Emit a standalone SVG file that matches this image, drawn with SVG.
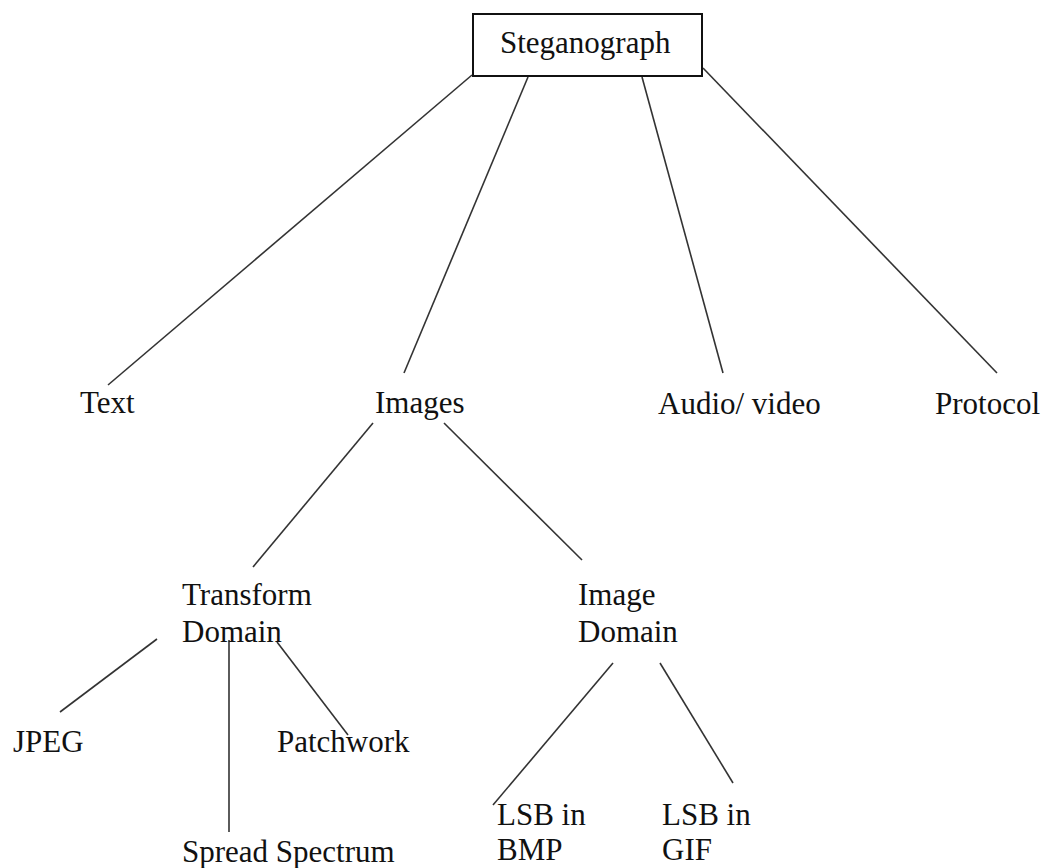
<svg xmlns="http://www.w3.org/2000/svg" width="1045" height="868" viewBox="0 0 1045 868">
<style>
.t{font-family:"Liberation Serif","Times New Roman",serif;font-size:31px;fill:#111}
.c line{stroke:#333;stroke-width:1.6;fill:none}
</style>
<rect width="1045" height="868" fill="#fff"/>
<g class="c" id="connectors">
<line x1="472" y1="75" x2="108" y2="385"/>
<line x1="528" y1="77" x2="404" y2="373"/>
<line x1="642" y1="77" x2="723" y2="373"/>
<line x1="703" y1="68" x2="997" y2="373"/>
<line x1="373" y1="423" x2="253" y2="567"/>
<line x1="444" y1="423" x2="582" y2="560"/>
<line x1="157" y1="639" x2="60" y2="712"/>
<line x1="229" y1="640" x2="229" y2="832"/>
<line x1="277" y1="642" x2="348" y2="735"/>
<line x1="613" y1="663" x2="493" y2="805"/>
<line x1="660" y1="663" x2="733" y2="783"/>
</g>
<g id="steganograph">
<rect x="473" y="14" width="229" height="62" fill="#fff" stroke="#111" stroke-width="2"/>
<text class="t" x="500" y="53">Steganograph</text>
</g>
<g id="text"><text class="t" x="80" y="413">Text</text></g>
<g id="images"><text class="t" x="375" y="413">Images</text></g>
<g id="audio"><text class="t" x="658" y="414">Audio/ video</text></g>
<g id="protocol"><text class="t" x="935" y="414">Protocol</text></g>
<g id="transform"><text class="t" x="182" y="605">Transform</text><text class="t" x="182" y="642">Domain</text></g>
<g id="imagedomain"><text class="t" x="578" y="605">Image</text><text class="t" x="578" y="642">Domain</text></g>
<g id="jpeg"><text class="t" x="13" y="752">JPEG</text></g>
<g id="patchwork"><text class="t" x="277" y="752">Patchwork</text></g>
<g id="spread"><text class="t" x="182" y="862">Spread Spectrum</text></g>
<g id="lsbbmp"><text class="t" x="497" y="825">LSB in</text><text class="t" x="497" y="860">BMP</text></g>
<g id="lsbgif"><text class="t" x="662" y="825">LSB in</text><text class="t" x="662" y="860">GIF</text></g>
</svg>
